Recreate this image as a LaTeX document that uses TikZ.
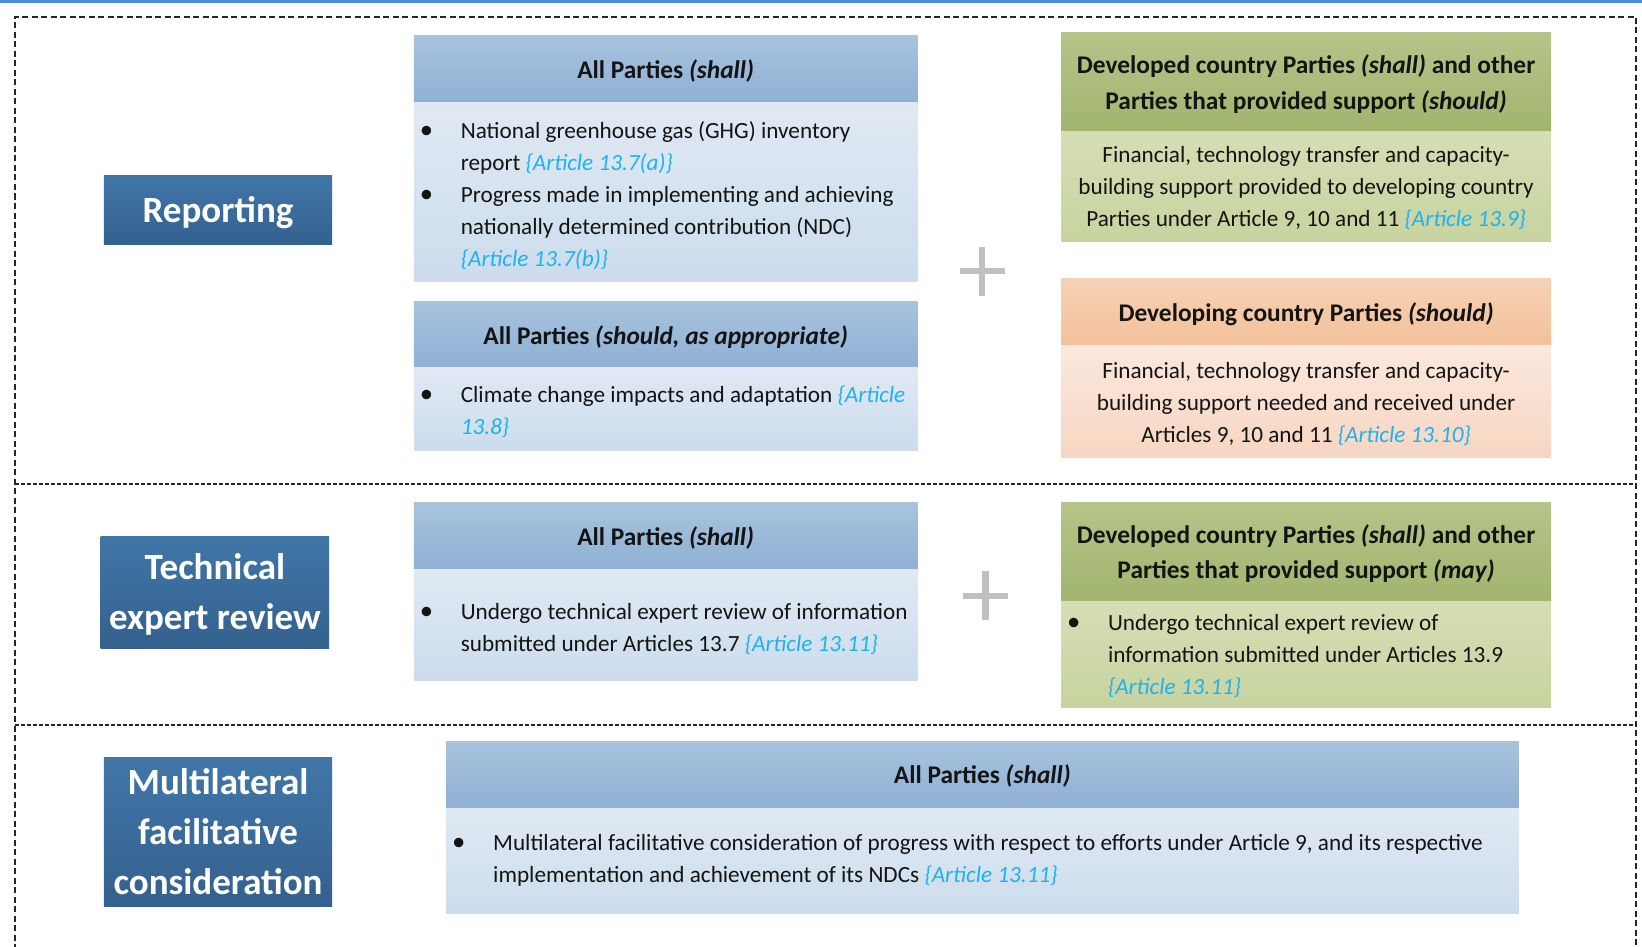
\documentclass[tikz,border=0pt]{standalone}
\usepackage{fontspec}
\setmainfont{Carlito}
\definecolor{topline}{RGB}{74,144,217}
\definecolor{lblTop}{RGB}{64,118,168}
\definecolor{lblBot}{RGB}{52,97,142}
\definecolor{bhTop}{RGB}{167,195,222}
\definecolor{bhBot}{RGB}{143,176,212}
\definecolor{bbTop}{RGB}{224,233,243}
\definecolor{bbBot}{RGB}{204,220,236}
\definecolor{ghTop}{RGB}{181,196,137}
\definecolor{ghBot}{RGB}{161,181,110}
\definecolor{gbTop}{RGB}{214,222,181}
\definecolor{gbBot}{RGB}{199,211,159}
\definecolor{ohTop}{RGB}{247,210,180}
\definecolor{ohBot}{RGB}{242,192,154}
\definecolor{obTop}{RGB}{251,232,221}
\definecolor{obBot}{RGB}{246,214,194}
\definecolor{artblue}{RGB}{30,178,240}
\definecolor{txt}{RGB}{20,20,20}
\definecolor{plusgray}{RGB}{192,192,192}
\newcommand{\art}[1]{{\color{artblue}\itshape\{#1\}}}
\newcommand{\bitem}[1]{\par\noindent\hangindent=37pt\hangafter=1\makebox[37pt][l]{\hspace{-4pt}\scalebox{1.15}{\textbullet}}#1\par}
% shifted list box: #1 shift, #2 width, #3 items (box keeps its own size)
\newcommand{\blist}[3]{\raisebox{-#1}[\height][\depth]{\parbox{#2}{\rightskip=0pt plus 1fil\parfillskip=0pt plus 1fil\parindent=0pt #3}}}
% shifted centred box: #1 shift, #2 width, #3 text
\newcommand{\cbox}[3]{\raisebox{-#1}[\height][\depth]{\parbox{#2}{\centering #3}}}
\tikzset{
  lbl/.style={anchor=north west, inner sep=0pt, top color=lblTop, bottom color=lblBot,
    text=white, font=\bfseries\fontsize{37}{50}\selectfont},
  hdr/.style={anchor=north west, inner sep=0pt, text=txt,
    font=\bfseries\fontsize{25.4}{35.5}\selectfont},
  bodyb/.style={anchor=north west, inner xsep=10pt, inner ysep=0pt, text=txt,
    font=\fontsize{23.2}{32}\selectfont},
  bluehdr/.style={hdr, top color=bhTop, bottom color=bhBot},
  bluebody/.style={bodyb, top color=bbTop, bottom color=bbBot},
  greenhdr/.style={hdr, top color=ghTop, bottom color=ghBot},
  greenbody/.style={bodyb, top color=gbTop, bottom color=gbBot},
  orangehdr/.style={hdr, top color=ohTop, bottom color=ohBot},
  orangebody/.style={bodyb, top color=obTop, bottom color=obBot},
  outerdash/.style={line width=2.2pt, dash pattern=on 6pt off 3.5pt, black!85},
  sepdash/.style={line width=2.2pt, dash pattern=on 4pt off 2pt, black!85},
  plussign/.style={line width=6.3pt, plusgray},
}
\begin{document}
\begin{tikzpicture}[x=1pt,y=-1pt]
\useasboundingbox (0,0) rectangle (1642,947);
\fill[topline] (0,0) rectangle (1642,3);
% outer frame and separators
\draw[outerdash] (14.7,950) -- (14.7,16.8) -- (1636,16.8) -- (1636,950);
\draw[sepdash] (14.7,484) -- (1636,484);
\draw[sepdash] (14.7,725) -- (1636,725);

% left labels
\node[lbl, minimum width=228.3pt, minimum height=69pt] (rep) at (103.7,175) {\cbox{3pt}{228pt}{Reporting}};
\node[lbl, minimum width=228.3pt, minimum height=112pt] (ter) at (100.5,536) {\cbox{2.5pt}{228pt}{Technical\\expert review}};
\node[lbl, minimum width=228.3pt, minimum height=148.8pt] (mfc) at (103.7,757) {\cbox{0pt}{228pt}{Multilateral\\facilitative\\consideration}};

% Reporting: All Parties (shall)
\node[bluehdr, minimum width=503.8pt, minimum height=67pt] (a1h) at (413.6,35.6) {\cbox{2pt}{500pt}{All Parties \textit{(shall)}}};
\node[bluebody, minimum height=179.1pt] (a1b) at (413.6,102.6) {\blist{3pt}{483.8pt}{%
  \bitem{National greenhouse gas (GHG) inventory\newline report \art{Article 13.7(a)}}%
  \bitem{Progress made in implementing and achieving\newline nationally determined contribution (NDC)\newline \art{Article 13.7(b)}}}};

% Reporting: All Parties (should, as appropriate)
\node[bluehdr, minimum width=503.8pt, minimum height=66pt] (a2h) at (413.6,301.6) {\cbox{2pt}{500pt}{All Parties \textit{(should, as appropriate)}}};
\node[bluebody, minimum height=82.7pt] (a2b) at (413.6,367.6) {\blist{3pt}{483.8pt}{%
  \bitem{Climate change impacts and adaptation {\color{artblue}\itshape\{Article\newline 13.8\}}}}};

% Reporting: developed country
\node[greenhdr, minimum width=490.2pt, minimum height=98.4pt] (g1h) at (1060.8,32.5) {\cbox{2pt}{488pt}{Developed country Parties \textit{(shall)} and other\\Parties that provided support \textit{(should)}}};
\node[greenbody, minimum height=110pt] (g1b) at (1060.8,130.9) {\cbox{2pt}{470.2pt}{%
  Financial, technology transfer and capacity-\\building support provided to developing country\\Parties under Article 9, 10 and 11 \art{Article 13.9}}};

% Reporting: developing country
\node[orangehdr, minimum width=490.2pt, minimum height=67pt] (o1h) at (1060.8,278.6) {\cbox{2pt}{488pt}{Developing country Parties \textit{(should)}}};
\node[orangebody, minimum height=112pt] (o1b) at (1060.8,345.6) {\cbox{2pt}{470.2pt}{%
  Financial, technology transfer and capacity-\\building support needed and received under\\Articles 9, 10 and 11 \art{Article 13.10}}};

% Technical expert review
\node[bluehdr, minimum width=503.8pt, minimum height=67pt] (a3h) at (413.6,502.7) {\cbox{2pt}{500pt}{All Parties \textit{(shall)}}};
\node[bluebody, minimum height=111pt] (a3b) at (413.6,569.7) {\blist{4pt}{483.8pt}{%
  \bitem{Undergo technical expert review of information\newline submitted under Articles 13.7 \art{Article 13.11}}}};

\node[greenhdr, minimum width=490.2pt, minimum height=98.4pt] (g2h) at (1060.8,502.7) {\cbox{1.5pt}{488pt}{Developed country Parties \textit{(shall)} and other\\Parties that provided support \textit{(may)}}};
\node[greenbody, minimum height=105.8pt] (g2b) at (1060.8,601.1) {\blist{1.5pt}{470.2pt}{%
  \bitem{Undergo technical expert review of\newline information submitted under Articles 13.9\newline \art{Article 13.11}}}};

% Multilateral facilitative consideration
\node[bluehdr, minimum width=1072.4pt, minimum height=67pt] (a4h) at (446,741.4) {\cbox{1pt}{1070pt}{All Parties \textit{(shall)}}};
\node[bluebody, minimum height=104.8pt] (a4b) at (446,808.4) {\blist{-1pt}{1052.4pt}{%
  \bitem{Multilateral facilitative consideration of progress with respect to efforts under Article 9, and its respective\newline implementation and achievement of its NDCs \art{Article 13.11}}}};

% plus signs
\draw[plussign] (959.5,271) -- (1004.5,271) (982,246.5) -- (982,295.5);
\draw[plussign] (962.9,595.9) -- (1007.9,595.9) (985.4,571.4) -- (985.4,620.4);
\end{tikzpicture}
\end{document}
